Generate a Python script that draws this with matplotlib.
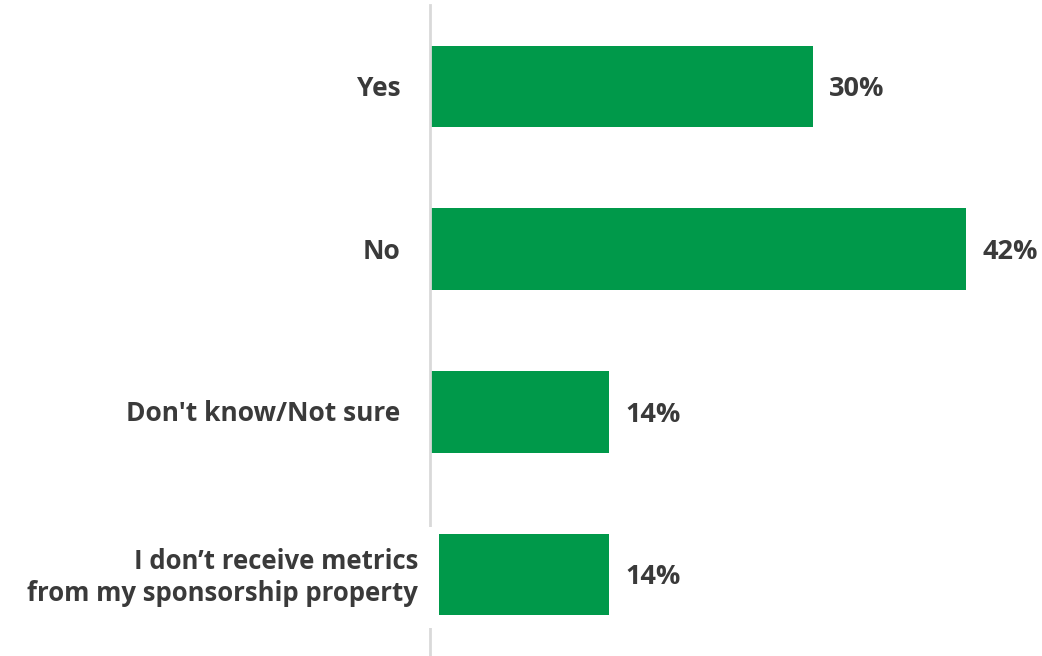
import matplotlib
matplotlib.use("Agg")
import matplotlib.pyplot as plt

categories = ["Yes", "No", "Don't know/Not sure",
              "I don\u2019t receive metrics\nfrom my sponsorship property"]
values = [30, 42, 14, 14]
value_labels = ["30%", "42%", "14%", "14%"]

GREEN = "#00994A"
TEXT = "#3A3A3A"
FONT = "Open Sans"

fig = plt.figure(figsize=(10.42, 6.56), dpi=100)
ax = fig.add_axes([430 / 1042, 0.0, 612 / 1042, 651 / 656])

ypos = list(range(len(categories)))
ax.barh(ypos, values, height=0.5, color=GREEN, zorder=2)
ax.set_ylim(3.5, -0.5)
ax.set_xlim(0, 48)

for s in ["top", "right", "bottom"]:
    ax.spines[s].set_visible(False)
ax.spines["left"].set_color("#D9D9D9")
ax.spines["left"].set_linewidth(2)
ax.set_xticks([])
ax.set_yticks([])

for i, (cat, v, lab) in enumerate(zip(categories, values, value_labels)):
    ax.annotate(lab, xy=(v, i), xycoords="data", xytext=(12, -2),
                textcoords="offset points", va="center", ha="left",
                fontsize=19.5, fontweight="bold", color=TEXT, family=FONT)
    if i < 3:
        ax.annotate(cat, xy=(0, i), xycoords="data", xytext=(-21.5, -1.5),
                    textcoords="offset points", ha="right", va="center",
                    fontsize=19, fontweight="bold", color=TEXT, family=FONT)
    else:
        ax.annotate(cat, xy=(0, i), xycoords="data", xytext=(-8.6, -2),
                    textcoords="offset points", ha="right", va="center",
                    multialignment="right", fontsize=18.5, fontweight="bold",
                    color=TEXT, family=FONT, linespacing=1.2,
                    bbox=dict(boxstyle="square,pad=0.82", fc="white", ec="none"),
                    zorder=5)

fig.savefig("out.png", dpi=100, facecolor="white")
